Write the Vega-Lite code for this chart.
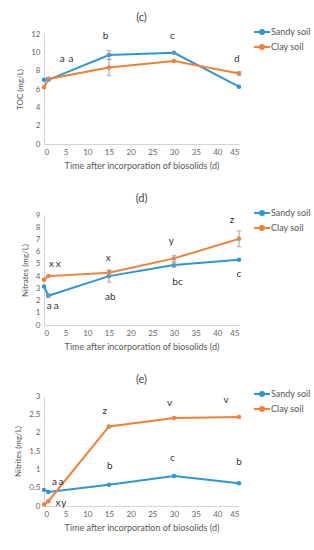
{
"$schema": "https://vega.github.io/schema/vega-lite/v6.json",
"padding": {"left": 14, "top": 12, "right": 5, "bottom": 3},
"spacing": 23,
"datasets": {
 "toc": [
  {"day": 0, "soil": "Sandy soil", "value": 7.0, "lo": null, "hi": null},
  {"day": 1, "soil": "Sandy soil", "value": 7.0, "lo": 6.9, "hi": 7.1},
  {"day": 15, "soil": "Sandy soil", "value": 9.7, "lo": 9.2, "hi": 10.2},
  {"day": 30, "soil": "Sandy soil", "value": 9.95, "lo": 9.9, "hi": 10.0},
  {"day": 45, "soil": "Sandy soil", "value": 6.25, "lo": null, "hi": null},
  {"day": 0, "soil": "Clay soil", "value": 6.2, "lo": null, "hi": null},
  {"day": 1, "soil": "Clay soil", "value": 7.1, "lo": 6.9, "hi": 7.3},
  {"day": 15, "soil": "Clay soil", "value": 8.35, "lo": 7.45, "hi": 9.25},
  {"day": 30, "soil": "Clay soil", "value": 9.05, "lo": null, "hi": null},
  {"day": 45, "soil": "Clay soil", "value": 7.7, "lo": 7.5, "hi": 7.9}
 ],
 "toc_lab": [
  {"day": 4.2, "value": 9.3, "t": "a"},
  {"day": 6.2, "value": 9.3, "t": "a"},
  {"day": 14.2, "value": 11.75, "t": "b"},
  {"day": 29.6, "value": 11.8, "t": "c"},
  {"day": 44.5, "value": 9.3, "t": "d"}
 ],
 "nitrates": [
  {"day": 0, "soil": "Sandy soil", "value": 3.15, "lo": null, "hi": null},
  {"day": 1, "soil": "Sandy soil", "value": 2.4, "lo": 2.25, "hi": 2.55},
  {"day": 15, "soil": "Sandy soil", "value": 4.0, "lo": 3.5, "hi": 4.5},
  {"day": 30, "soil": "Sandy soil", "value": 4.9, "lo": 4.7, "hi": 5.1},
  {"day": 45, "soil": "Sandy soil", "value": 5.33, "lo": null, "hi": null},
  {"day": 0, "soil": "Clay soil", "value": 3.7, "lo": null, "hi": null},
  {"day": 1, "soil": "Clay soil", "value": 4.0, "lo": null, "hi": null},
  {"day": 15, "soil": "Clay soil", "value": 4.28, "lo": 4.08, "hi": 4.48},
  {"day": 30, "soil": "Clay soil", "value": 5.45, "lo": 5.2, "hi": 5.7},
  {"day": 45, "soil": "Clay soil", "value": 7.05, "lo": 6.4, "hi": 7.7}
 ],
 "nitrates_lab": [
  {"day": 1.7, "value": 5.0, "t": "x"},
  {"day": 3.3, "value": 5.0, "t": "x"},
  {"day": 14.8, "value": 5.5, "t": "x"},
  {"day": 29.4, "value": 6.9, "t": "y"},
  {"day": 43.4, "value": 8.6, "t": "z"},
  {"day": 1.2, "value": 1.55, "t": "a"},
  {"day": 2.8, "value": 1.55, "t": "a"},
  {"day": 15.3, "value": 2.3, "t": "ab"},
  {"day": 30.8, "value": 3.5, "t": "bc"},
  {"day": 45, "value": 4.2, "t": "c"}
 ],
 "nitrites": [
  {"day": 0, "soil": "Sandy soil", "value": 0.44, "lo": null, "hi": null},
  {"day": 1, "soil": "Sandy soil", "value": 0.38, "lo": null, "hi": null},
  {"day": 15, "soil": "Sandy soil", "value": 0.58, "lo": null, "hi": null},
  {"day": 30, "soil": "Sandy soil", "value": 0.82, "lo": null, "hi": null},
  {"day": 45, "soil": "Sandy soil", "value": 0.62, "lo": null, "hi": null},
  {"day": 0, "soil": "Clay soil", "value": 0.04, "lo": null, "hi": null},
  {"day": 1, "soil": "Clay soil", "value": 0.13, "lo": null, "hi": null},
  {"day": 15, "soil": "Clay soil", "value": 2.17, "lo": 2.14, "hi": 2.2},
  {"day": 30, "soil": "Clay soil", "value": 2.4, "lo": null, "hi": null},
  {"day": 45, "soil": "Clay soil", "value": 2.43, "lo": null, "hi": null}
 ],
 "nitrites_lab": [
  {"day": 2.4, "value": 0.66, "t": "a"},
  {"day": 3.9, "value": 0.66, "t": "a"},
  {"day": 3.2, "value": 0.09, "t": "x"},
  {"day": 4.6, "value": 0.09, "t": "y"},
  {"day": 14, "value": 2.6, "t": "z"},
  {"day": 29, "value": 2.82, "t": "v"},
  {"day": 42, "value": 2.9, "t": "v"},
  {"day": 15.2, "value": 1.1, "t": "b"},
  {"day": 29.6, "value": 1.32, "t": "c"},
  {"day": 45, "value": 1.19, "t": "b"}
 ]
},
"config": {
 "font": "Lato",
 "view": {"stroke": null},
 "axis": {"labelColor": "#666", "labelFontSize": 8, "titleColor": "#555", "titleFontWeight": "normal", "titleFontSize": 8, "grid": false, "domainColor": "#d4d4d4", "ticks": false, "labelPadding": 4, "labelOverlap": false, "format": "~g"},
 "axisX": {"titleFontSize": 9, "titlePadding": 5, "titleColor": "#595959"},
 "axisY": {"titlePadding": 6},
 "legend": {"orient": "none", "legendX": 212, "legendY": -8, "title": null, "labelFontSize": 9, "labelColor": "#555", "symbolType": "M-1.6,0H1.6M0,-0.4A0.4,0.4 0 1,1 0,0.4A0.4,0.4 0 1,1 0,-0.4", "symbolSize": 100, "symbolStrokeWidth": 2, "rowPadding": 3, "labelOffset": 3},
 "title": {"fontSize": 11, "fontWeight": "normal", "color": "#444", "offset": 3},
 "text": {"font": "Lato"}
},
"resolve": {"scale": {"color": "independent"}, "legend": {"color": "independent"}},
"vconcat": [
 {
  "title": "(c)",
  "width": 195, "height": 110,
  "encoding": {
   "x": {"field": "day", "type": "quantitative", "title": "Time after incorporation of biosolids (d)", "scale": {"domain": [0, 45], "nice": false}, "axis": {"values": [0,5,10,15,20,25,30,35,40,45]}}
  },
  "layer": [
   {"data": {"name": "toc"},
    "mark": {"type": "line", "strokeWidth": 2, "point": {"size": 20, "filled": true}},
    "encoding": {
     "y": {"field": "value", "type": "quantitative", "title": "TOC (mg/L)", "scale": {"domain": [0, 12], "nice": false}, "axis": {"values": [0,2,4,6,8,10,12]}},
     "color": {"field": "soil", "type": "nominal", "sort": ["Sandy soil", "Clay soil"], "scale": {"domain": ["Sandy soil", "Clay soil"], "range": ["#2F96D3", "#F28036"]}}}},
   {"data": {"name": "toc"}, "transform": [{"filter": "datum.lo != null"}],
    "mark": {"type": "errorbar", "ticks": {"size": 5}, "color": "#9a9a9a"},
    "encoding": {"y": {"field": "lo", "type": "quantitative", "title": "TOC (mg/L)", "axis": {"values": [0,2,4,6,8,10,12]}}, "y2": {"field": "hi"}}},
   {"data": {"name": "toc_lab"},
    "mark": {"type": "text", "fontSize": 10, "color": "#333"},
    "encoding": {"y": {"field": "value", "type": "quantitative", "title": "TOC (mg/L)", "axis": {"values": [0,2,4,6,8,10,12]}}, "text": {"field": "t"}}}
  ]
 },
 {
  "title": "(d)",
  "width": 195, "height": 110,
  "encoding": {
   "x": {"field": "day", "type": "quantitative", "title": "Time after incorporation of biosolids (d)", "scale": {"domain": [0, 45], "nice": false}, "axis": {"values": [0,5,10,15,20,25,30,35,40,45]}}
  },
  "layer": [
   {"data": {"name": "nitrates"},
    "mark": {"type": "line", "strokeWidth": 2, "point": {"size": 20, "filled": true}},
    "encoding": {
     "y": {"field": "value", "type": "quantitative", "title": "Nitrates (mg/L)", "scale": {"domain": [0, 9], "nice": false}, "axis": {"values": [0,1,2,3,4,5,6,7,8,9]}},
     "color": {"field": "soil", "type": "nominal", "sort": ["Sandy soil", "Clay soil"], "scale": {"domain": ["Sandy soil", "Clay soil"], "range": ["#2F96D3", "#F28036"]}}}},
   {"data": {"name": "nitrates"}, "transform": [{"filter": "datum.lo != null"}],
    "mark": {"type": "errorbar", "ticks": {"size": 5}, "color": "#9a9a9a"},
    "encoding": {"y": {"field": "lo", "type": "quantitative", "title": "Nitrates (mg/L)", "axis": {"values": [0,1,2,3,4,5,6,7,8,9]}}, "y2": {"field": "hi"}}},
   {"data": {"name": "nitrates_lab"},
    "mark": {"type": "text", "fontSize": 10, "color": "#333"},
    "encoding": {"y": {"field": "value", "type": "quantitative", "title": "Nitrates (mg/L)", "axis": {"values": [0,1,2,3,4,5,6,7,8,9]}}, "text": {"field": "t"}}}
  ]
 },
 {
  "title": "(e)",
  "width": 195, "height": 110,
  "encoding": {
   "x": {"field": "day", "type": "quantitative", "title": "Time after incorporation of biosolids (d)", "scale": {"domain": [0, 45], "nice": false}, "axis": {"values": [0,5,10,15,20,25,30,35,40,45]}}
  },
  "layer": [
   {"data": {"name": "nitrites"},
    "mark": {"type": "line", "strokeWidth": 2, "point": {"size": 20, "filled": true}},
    "encoding": {
     "y": {"field": "value", "type": "quantitative", "title": "Nitrites (mg/L)", "scale": {"domain": [0, 3], "nice": false}, "axis": {"values": [0,0.5,1,1.5,2,2.5,3], "format": "~g"}},
     "color": {"field": "soil", "type": "nominal", "sort": ["Sandy soil", "Clay soil"], "scale": {"domain": ["Sandy soil", "Clay soil"], "range": ["#2F96D3", "#F28036"]}}}},
   {"data": {"name": "nitrites"}, "transform": [{"filter": "datum.lo != null"}],
    "mark": {"type": "errorbar", "ticks": {"size": 5}, "color": "#9a9a9a"},
    "encoding": {"y": {"field": "lo", "type": "quantitative", "title": "Nitrites (mg/L)", "axis": {"values": [0,0.5,1,1.5,2,2.5,3], "format": "~g"}}, "y2": {"field": "hi"}}},
   {"data": {"name": "nitrites_lab"},
    "mark": {"type": "text", "fontSize": 10, "color": "#333"},
    "encoding": {"y": {"field": "value", "type": "quantitative", "title": "Nitrites (mg/L)", "axis": {"values": [0,0.5,1,1.5,2,2.5,3], "format": "~g"}}, "text": {"field": "t"}}}
  ]
 }
]
}
